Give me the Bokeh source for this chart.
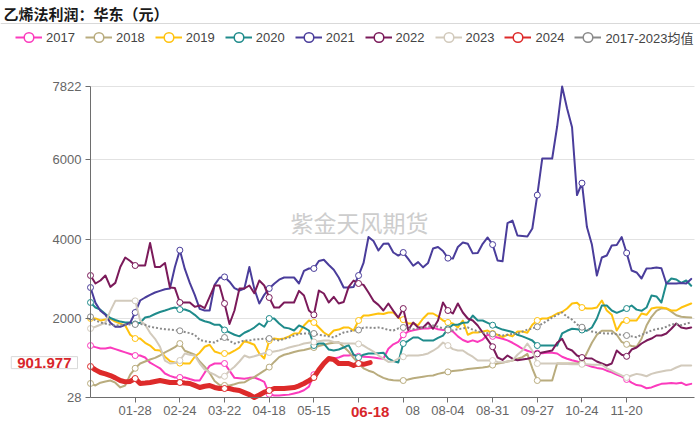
from bokeh.plotting import figure
from bokeh.models import (Range1d, FixedTicker, Legend, LegendItem, Label, Span,
                          ColumnDataSource)
from bokeh.embed import file_html
from bokeh.resources import INLINE

TITLE = "乙烯法利润：华东（元）"
WATERMARK = "紫金天风期货"

# category axis: day index in the year (0 = 01-01 ... 365 = 12-31)
TICK_DAYS = [27, 54, 81, 108, 135, 162, 189, 216, 243, 270, 297, 324]
TICK_LABELS = ["01-28", "02-24", "03-22", "04-18", "05-15", "06-11",
               "07-08", "08-04", "08-31", "09-27", "10-24", "11-20"]
Y_TICKS = [28, 2000, 4000, 6000, 7822]
Y_MIN, Y_MAX = 28, 7822
X_MIN, X_MAX = 0, 365

DAYS = list(range(0, 366, 3))
DAYS_2024 = list(range(0, 168, 3)) + [169]
LAST_DAY_LABEL = "06-18"
LAST_VALUE = 901.977

S2017 = [1330, 1290, 1256, 1256, 1280, 1240, 1200, 1160, 1120, 1080,
         1080, 1030, 900, 830, 760, 630, 570, 530, 530, 530,
         490, 454, 454, 650, 820, 880, 880, 880, 700, 520,
         510, 500, 520, 530, 480, 420, 110, 80, 80, 90,
         100, 130, 160, 210, 300, 600, 720, 880, 1005, 1005,
         1030, 1080, 1080, 1100, 1060, 1050, 1040, 1030, 1010, 1000,
         1250, 1360, 1420, 1600, 1680, 1710, 1740, 1760, 1760, 1780,
         1740, 1720, 1720, 1680, 1560, 1470, 1420, 1460, 1420, 1480,
         1600, 1560, 1530, 1500, 1460, 1400, 1330, 1250, 1200, 1160,
         1140, 1140, 1150, 1150, 1130, 1050, 1000, 960, 930, 880,
         840, 800, 770, 750, 700, 660, 600, 550, 480, 400,
         340, 320, 260, 280, 330, 370, 380, 390, 380, 400,
         340, 370]

S2018 = [380, 330, 400, 430, 454, 400, 280, 330, 600, 760,
         880, 930, 980, 1020, 1080, 1160, 1220, 1290, 1380, 1200,
         1150, 1100, 930, 800, 640, 440, 340, 330, 330, 360,
         400, 410, 480, 540, 620, 700, 790, 920, 1040, 1100,
         1130, 1170, 1200, 1220, 1250, 1280, 1320, 1350, 1380, 1400,
         1410, 1300, 1180, 1020, 880, 760, 700, 660, 580, 520,
         480, 460, 454, 454, 480, 510, 530, 550, 570, 580,
         620, 650, 670, 690, 705, 720, 740, 755, 770, 780,
         800, 840, 880, 900, 930, 955, 1000, 1040, 1120, 760,
         454, 454, 454, 454, 880, 880, 880, 880, 880, 900,
         1150, 1400, 1600, 1700, 1700, 1700, 1600, 1420, 1360, 1320,
         1300, 1500, 1830, 2050, 2200, 2260, 2260, 2180, 2090, 2050,
         2040, 2030]

S2019 = [2010, 2010, 1960, 1980, 2000, 1930, 1880, 1830, 1600, 1506,
         1506, 1400, 1330, 1220, 1206, 1050, 940, 905, 890, 880,
         880, 1050, 1150, 1300, 1350, 1180, 1140, 1131, 1131, 1200,
         1280, 1440, 1400, 1350, 1131, 1005, 1456, 1506, 1490, 1506,
         1560, 1632, 1640, 1832, 1958, 1908, 1782, 1657, 1582, 1707,
         1730, 1782, 1782, 1707, 1958, 2083, 2083, 2110, 2133, 2120,
         2158, 2158, 2033, 1980, 1883, 1883, 1840, 2008, 2133, 2133,
         2060, 1958, 1908, 1883, 1782, 1958, 1600, 1657, 1657, 1680,
         1707, 1632, 1600, 1540, 1600, 1560, 1680, 1680, 1650, 1850,
         1958, 2008, 2008, 2060, 2133, 2170, 2258, 2384, 2400, 2283,
         2258, 2258, 2283, 2459, 2208, 2100, 1707, 1908, 1958, 1958,
         1958, 2133, 2100, 2258, 2283, 2283, 2258, 2208, 2208, 2283,
         2334, 2384]

S2020 = [2409, 2283, 2230, 2120, 2020, 1970, 1930, 1908, 1908, 1870,
         1900, 2033, 2060, 2120, 2170, 2208, 2250, 2283, 2233, 2233,
         2190, 2100, 1990, 1940, 1908, 1850, 1850, 1720, 1660, 1600,
         1560, 1650, 1707, 1780, 1883, 1800, 2008, 2008, 1883, 1782,
         1760, 1707, 1832, 1780, 1707, 1331, 1381, 1381, 1230, 1206,
         1230, 1281, 1340, 1100, 1030, 1100, 1131, 1131, 1140, 1150,
         1000, 940, 905, 1381, 1450, 1532, 1532, 1456, 1456, 1456,
         1520, 1580, 1750, 1850, 1850, 1900, 1908, 2083, 1958, 1958,
         1900, 1840, 1780, 1730, 1700, 1670, 1600, 1560, 1510, 1456,
         1331, 1331, 1331, 1331, 1331, 1632, 1700, 1750, 1740, 1720,
         1700, 1782, 2008, 2334, 2334, 2208, 2150, 2200, 2258, 2334,
         2230, 2200, 2283, 2584, 2560, 2409, 2885, 3010, 2985, 2900,
         2960, 2830]

S2021 = [2784, 2400, 2200, 2100, 1900, 1800, 1800, 1850, 1900, 2158,
         2459, 2534, 2600, 2659, 2700, 2740, 2760, 3300, 3720, 3250,
         2900, 2600, 2250, 2208, 2208, 2850, 3030, 3050, 2930, 2770,
         2710, 2760, 3300, 2750, 2384, 2600, 2760, 2880, 2980, 3035,
         3035, 3035, 2885, 3200, 3261, 3261, 3450, 3480, 3350, 3230,
         3035, 2784, 2784, 2800, 3085, 3400, 4050, 3950, 3712, 3880,
         3887, 3662, 3586, 3662, 3500, 3330, 3420, 3290, 3400, 3762,
         3800, 3700, 3520, 3511, 3800, 3912, 3880, 3640, 3650, 3880,
         4038, 3860, 3461, 3440, 4400, 4460, 4088, 4075, 4063, 4263,
         5100, 6018, 6018, 6018, 6819, 7822, 7270, 6800, 5100, 5400,
         4300, 3860, 3085, 3536, 3586, 3837, 3850, 4050, 3650, 3211,
         3161, 3010, 3261, 3270, 3286, 3268, 2885, 2885, 2885, 2900,
         2885, 3000]

S2022 = [3085, 2885, 2960, 3085, 2800, 2900, 3300, 3536, 3450, 3336,
         3336, 3336, 3900, 3300, 3300, 3400, 2784, 2770, 2409, 2409,
         2409, 2300, 2334, 2270, 2550, 2835, 2835, 2384, 1870, 2208,
         2760, 2760, 2835, 2640, 2960, 2835, 2534, 2283, 2283, 2409,
         2409, 2409, 2700, 2584, 2208, 2100, 2710, 2634, 2409, 2550,
         2384, 2420, 2800, 2960, 2885, 2850, 2659, 2450, 2350, 2208,
         2384, 2200, 2030, 2258, 1720, 1908, 1782, 1782, 1908, 1750,
         1958, 2409, 2208, 2133, 2384, 2158, 2008, 1958, 1832, 1657,
         1480, 1300, 1030, 970, 1080, 1000, 960, 980, 1000, 1030,
         1120, 1156, 1180, 1206, 1400, 1500, 1260, 1206, 1080, 1030,
         1010, 1005, 930, 880, 830, 880, 1206, 1100, 1060, 1230,
         1281, 1381, 1456, 1506, 1582, 1582, 1632, 1750, 1883, 1782,
         1757, 1782]

S2023 = [1757, 1800, 1850, 1908, 2200, 2450, 2450, 2450, 2450, 2450,
         1958, 1850, 1650, 1500, 1300, 950, 880, 890, 955, 1130,
         1100, 1080, 880, 730, 660, 600, 529, 560, 700, 800,
         930, 1080, 1030, 1060, 1100, 1140, 1156, 1180, 1206, 1240,
         1281, 1310, 1340, 1381, 1400, 1420, 1440, 1456, 1456, 1420,
         1400, 1381, 1381, 1381, 1370, 1330, 1250, 1180, 1080, 1000,
         920, 930, 1005, 1050, 1080, 1080, 1080, 1100, 1131, 1200,
         1281, 1406, 1330, 1240, 1206, 1206, 1120, 1050, 955, 955,
         955, 955, 920, 905, 930, 955, 1100, 1206, 1381, 1200,
         880, 880, 880, 880, 880, 870, 870, 860, 860, 860,
         860, 850, 850, 850, 760, 700, 640, 580, 530, 580,
         620, 600, 560, 620, 655, 680, 705, 720, 780, 830,
         830, 830]

S2024 = [805, 720, 655, 620, 579, 520, 454, 420, 430, 504,
         379, 390, 404, 430, 454, 430, 404, 404, 404, 390,
         379, 330, 278, 310, 328, 280, 253, 253, 253, 220,
         203, 150, 100, 28, 90, 160, 203, 253, 253, 253,
         265, 278, 320, 379, 450, 529, 720, 880, 1005, 980,
         880, 880, 880, 830, 880, 860, LAST_VALUE]

SAVG = [2050, 1960, 1908, 1880, 1850, 1832, 1840, 1850, 1858, 1858,
        1870, 1850, 1800, 1780, 1757, 1740, 1730, 1720, 1700, 1670,
        1640, 1600, 1470, 1440, 1420, 1406, 1480, 1532, 1450, 1381,
        1420, 1456, 1456, 1480, 1490, 1500, 1506, 1480, 1456, 1500,
        1530, 1580, 1620, 1632, 1632, 1632, 1600, 1582, 1560, 1532,
        1600, 1657, 1680, 1707, 1720, 1780, 1780, 1770, 1782, 1760,
        1720, 1707, 1760, 1782, 1760, 1740, 1757, 1780, 1800, 1832,
        1800, 1760, 1720, 1707, 1740, 1760, 1782, 1730, 1690, 1657,
        1640, 1620, 1600, 1582, 1600, 1620, 1632, 1680, 1730, 1760,
        1800, 1880, 1950, 2033, 2100, 2158, 2050, 1980, 1860, 1790,
        1740, 1680, 1657, 1640, 1632, 1632, 1610, 1600, 1582, 1560,
        1540, 1600, 1650, 1707, 1740, 1757, 1800, 1860, 1870, 1840,
        1880, 1908]

SERIES = [
    ("2017", DAYS, S2017, "#fb3bbd", 2, None),
    ("2018", DAYS, S2018, "#b9ac7e", 2, None),
    ("2019", DAYS, S2019, "#ffc20e", 2, None),
    ("2020", DAYS, S2020, "#1f8b8b", 2, None),
    ("2021", DAYS, S2021, "#4a3d9b", 2, None),
    ("2022", DAYS, S2022, "#7b1a5a", 2, None),
    ("2023", DAYS, S2023, "#d2cabc", 2, None),
    ("2024", DAYS_2024, S2024, "#dd2a2a", 5, None),
    ("2017-2023均值", DAYS, SAVG, "#8a8a8a", 2, "2 2"),
]

RED = "#d8262b"
AXIS = "#6e6e6e"
FONT = "Liberation Sans"
NAN = float("nan")

# page layout (pixels): the whole canvas is the frame; the data area is
# x 90..694 and y 86..397, the axes sit at its edges (fixed_location)
W, H = 700, 425
L, R, T, B = 90, 694, 86, 397
PX_X = (X_MAX - X_MIN) / (R - L)
PX_Y = (Y_MAX - Y_MIN) / (B - T)
x_range = Range1d(X_MIN - L * PX_X, X_MAX + (W - R) * PX_X)
y_range = Range1d(Y_MIN - (H - B) * PX_Y, Y_MAX + T * PX_Y)

p = figure(width=W, height=H, x_range=x_range, y_range=y_range,
           output_backend="svg", toolbar_location=None, min_border=0)
p.outline_line_color = None
p.xgrid.visible = False

xa, ya = p.xaxis[0], p.yaxis[0]
xa.fixed_location = Y_MIN
ya.fixed_location = X_MIN
xa.bounds = (X_MIN, X_MAX)
ya.bounds = (Y_MIN, Y_MAX)
ya.ticker = FixedTicker(ticks=Y_TICKS)
xa.ticker = FixedTicker(ticks=TICK_DAYS)
xa.major_label_overrides = dict(zip(TICK_DAYS, TICK_LABELS))
for ax in (xa, ya):
    ax.axis_line_color = AXIS
    ax.major_tick_line_color = AXIS
    ax.major_tick_out = 5
    ax.major_tick_in = 0
    ax.minor_tick_out = 0
    ax.minor_tick_in = 0
    ax.major_label_text_font = FONT
    ax.major_label_text_font_size = "13px"
    ax.major_label_text_color = "#666666"
ya.major_label_standoff = 4
xa.major_label_standoff = 3

yg = p.ygrid[0]
yg.ticker = FixedTicker(ticks=Y_TICKS[1:])
yg.grid_line_color = "#e2e2e2"
try:
    yg.cross_bounds = (X_MIN, X_MAX)
except Exception:
    yg.visible = False
    p.segment(x0=[X_MIN] * 4, x1=[X_MAX] * 4, y0=Y_TICKS[1:], y1=Y_TICKS[1:],
              line_color="#e2e2e2", line_width=1, level="underlay")

# title and separator line
p.add_layout(Label(x=3, y=H - 13, x_units="screen", y_units="screen", text=TITLE,
                   text_font="Noto Sans CJK SC", text_font_size="15px",
                   text_font_style="bold", text_color="#1a1a1a",
                   text_baseline="middle"))
p.add_layout(Span(location=Y_MAX + (T - 23) * PX_Y, dimension="width",
                  line_color="#d9d9d9", line_width=1))

p.add_layout(Label(x=359, y=H - 221, x_units="screen", y_units="screen", text=WATERMARK,
                   text_font="Noto Sans CJK SC", text_font_size="23px",
                   text_color="#cdcdcd", text_align="center", text_baseline="middle",
                   level="underlay"))

items = []
for name, days, vals, color, lw, dash in SERIES:
    src = ColumnDataSource(dict(day=days, v=vals))
    kw = dict(line_color=color, line_width=lw, line_join="round", line_cap="round")
    if dash:
        kw["line_dash"] = dash
        kw["line_cap"] = "butt"
    p.line("day", "v", source=src, **kw)
    mdays = [d for d in days[::9] if d <= 324]
    mvals = vals[::9][:len(mdays)]
    p.scatter(x=mdays, y=mvals, marker="circle", size=6, fill_color="white",
              line_color=color, line_width=1)
    # legend icon glyphs (no visible data)
    lr = p.line(x=[NAN], y=[NAN], line_color=color, line_width=2)
    sr = p.scatter(x=[NAN], y=[NAN], marker="circle", size=8, fill_color="white",
                   line_color=color, line_width=1.5)
    items.append(LegendItem(label=name, renderers=[lr, sr]))

legend = Legend(items=items, orientation="horizontal", location=(15, H - 49),
                glyph_width=27, glyph_height=24, label_standoff=4, spacing=10,
                padding=0, margin=0, border_line_color=None,
                background_fill_alpha=0, label_text_font_size="13px",
                label_text_color="#444444",
                label_text_font="Liberation Sans, Noto Sans CJK SC")
p.add_layout(legend)

# axis-pointer labels for the latest 2024 point
p.add_layout(Label(x=DAYS_2024[-1], y=H - 411, y_units="screen", text=LAST_DAY_LABEL,
                   text_font=FONT, text_font_size="15px", text_font_style="bold",
                   text_color=RED, text_align="center", text_baseline="middle",
                   background_fill_color="white", padding=(16, 1)))
p.add_layout(Label(x=77, x_units="screen", y=LAST_VALUE, text=f"{LAST_VALUE}",
                   text_font=FONT, text_font_size="15px", text_font_style="bold",
                   text_color=RED, text_align="right", text_baseline="middle",
                   background_fill_color="white", border_line_color="#d9d9d9",
                   padding=(6, 1)))

open("out.html", "w").write(file_html(p, INLINE))
